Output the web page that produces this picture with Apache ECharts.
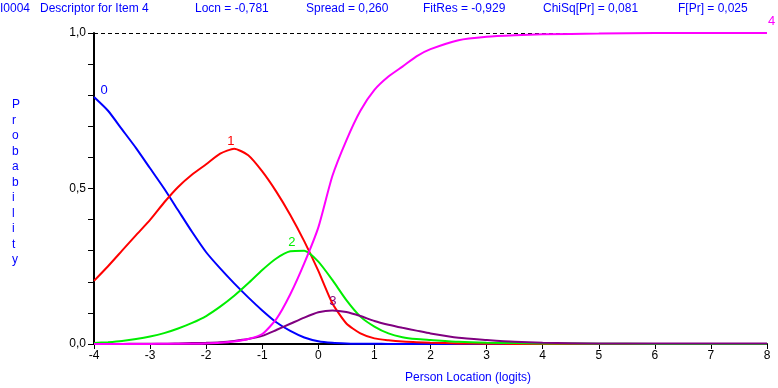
<!DOCTYPE html>
<html>
<head>
<meta charset="utf-8">
<script src="https://cdn.jsdelivr.net/npm/echarts@6/dist/echarts.min.js"></script>
<style>
  html, body { margin: 0; padding: 0; background: #fff; }
  #chart { width: 778px; height: 388px; }
</style>
</head>
<body>
<div id="chart"></div>
<script>
// person location (logits)
const xs = [-4, -3.75, -3.5, -3.25, -3, -2.75, -2.5, -2.25, -2, -1.75, -1.5, -1.25, -1, -0.75, -0.5, -0.25, 0, 0.25, 0.5, 0.75, 1, 1.25, 1.5, 1.75, 2, 2.5, 3, 3.5, 4, 5, 6, 7, 8]

// category probability curves
const p0 = [0.794, 0.75, 0.69, 0.63, 0.565, 0.50, 0.43, 0.36, 0.295, 0.243, 0.195, 0.15, 0.108, 0.07, 0.042, 0.021, 0.009, 0.004, 0.002, 0.001, 0.001, 0, 0, 0, 0, 0, 0, 0, 0, 0, 0, 0, 0]
const p1 = [0.203, 0.25, 0.30, 0.35, 0.399, 0.455, 0.505, 0.545, 0.578, 0.612, 0.628, 0.607, 0.555, 0.49, 0.415, 0.33, 0.235, 0.131, 0.066, 0.034, 0.018, 0.012, 0.008, 0.006, 0.004, 0.002, 0.001, 0, 0, 0, 0, 0, 0]
const p2 = [0.003, 0.006, 0.01, 0.016, 0.024, 0.035, 0.05, 0.068, 0.09, 0.12, 0.155, 0.195, 0.238, 0.275, 0.298, 0.300, 0.265, 0.206, 0.141, 0.088, 0.056, 0.034, 0.022, 0.016, 0.013, 0.007, 0.004, 0.003, 0.002, 0.001, 0, 0, 0]
const p3 = [0, 0, 0, 0.001, 0.001, 0.001, 0.002, 0.003, 0.004, 0.006, 0.010, 0.016, 0.026, 0.045, 0.065, 0.085, 0.102, 0.108, 0.103, 0.090, 0.074, 0.062, 0.052, 0.043, 0.034, 0.020, 0.013, 0.007, 0.004, 0.002, 0.002, 0.002, 0.002]
const p4 = [0, 0, 0, 0, 0, 0.001, 0.001, 0.001, 0.002, 0.004, 0.008, 0.016, 0.032, 0.08, 0.16, 0.26, 0.375, 0.54, 0.655, 0.75, 0.817, 0.86, 0.892, 0.925, 0.948, 0.977, 0.988, 0.993, 0.996, 0.998, 1.0, 1.0, 1.0]

const curves = [
  { name: '0', data: p0, color: '#0000ff', tag: [-3.82, 0.815] },
  { name: '1', data: p1, color: '#ff0000', tag: [-1.56, 0.652] },
  { name: '2', data: p2, color: '#00ee00', tag: [-0.47, 0.327] },
  { name: '3', data: p3, color: '#800080', tag: [0.26, 0.137] },
  { name: '4', data: p4, color: '#ff00ff', tag: null }
]

const header = ['I0004', 'Descriptor for Item 4', 'Locn = -0,781', 'Spread = 0,260', 'FitRes = -0,929', 'ChiSq[Pr] = 0,081', 'F[Pr] = 0,025']
const headerX = [0, 40, 195, 306, 423, 543, 678]

const blue = '#0000ff'
const font = 'Arial, "Liberation Sans", sans-serif'
const comma = v => (Number.isInteger(v) ? v.toFixed(1) : String(v)).replace('.', ',')

const chart = echarts.init(document.getElementById('chart'))

const series = curves.map((c, i) => {
  const s = {
    type: 'line',
    name: c.name,
    data: xs.map((x, j) => [x, c.data[j]]),
    smooth: 0.2,
    symbol: 'none',
    lineStyle: { color: c.color, width: 2 },
    itemStyle: { color: c.color },
    z: 3 + i
  }
  if (c.tag) {
    s.markPoint = {
      symbol: 'circle', symbolSize: 0,
      label: { show: true, position: 'inside', formatter: c.name, color: c.color, fontSize: 13, fontFamily: font },
      data: [{ coord: c.tag, value: c.name }]
    }
  }
  return s
})

series[0].markLine = {
  silent: true, symbol: 'none',
  label: { show: false },
  lineStyle: { color: '#000', type: [4, 3], width: 1 },
  data: [{ yAxis: 1 }]
}

chart.setOption({
  animation: false,
  textStyle: { fontFamily: font },
  grid: { left: 94, right: 11, top: 33, bottom: 44 },
  xAxis: {
    type: 'value', min: -4, max: 8, interval: 1,
    axisLine: { onZero: false, lineStyle: { color: '#000', width: 2 } },
    axisTick: { length: 5, lineStyle: { color: '#000', width: 1 } },
    axisLabel: { color: '#000', fontSize: 12, margin: 6 },
    splitLine: { show: false }
  },
  yAxis: {
    type: 'value', min: 0, max: 1, interval: 0.1,
    axisLine: { show: true, onZero: false, lineStyle: { color: '#000', width: 2 } },
    axisTick: { show: true, length: 6, lineStyle: { color: '#000', width: 1 } },
    axisLabel: {
      color: '#000', fontSize: 12, margin: 8,
      formatter: v => (Math.abs(v * 2 - Math.round(v * 2)) < 1e-6 ? comma(Math.round(v * 10) / 10) : '')
    },
    splitLine: { show: false }
  },
  graphic: [
    ...header.map((t, i) => ({
      type: 'text', left: headerX[i], top: 3,
      style: { text: t, fill: blue, font: '12px ' + font }
    })),
    {
      type: 'text', left: 12, top: 97,
      style: { text: 'Probability'.split('').join('\n'), fill: blue, font: '12px ' + font, lineHeight: 15.5, align: 'center', width: 12 }
    },
    {
      type: 'text', left: 405, top: 372,
      style: { text: 'Person Location (logits)', fill: blue, font: '12px ' + font }
    },
    // end label of curve 4, just past the plot's top right corner
    {
      type: 'text', left: 768, top: 15,
      style: { text: '4', fill: '#ff00ff', font: '13px ' + font }
    }
  ],
  series
})
</script>
</body>
</html>
